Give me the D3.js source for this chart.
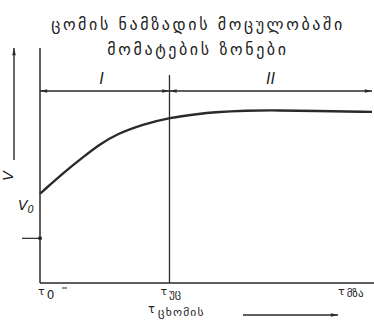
<!DOCTYPE html>
<html>
<head>
<meta charset="utf-8">
<script src="https://cdn.jsdelivr.net/npm/d3@7"></script>
<style>
  body { margin: 0; background: #fff; }
  text { font-family: "DejaVu Sans", sans-serif; fill: #222; }
</style>
</head>
<body>
<svg width="374" height="322"></svg>
<script>
// curve (time %, volume %)
var times = [0, 8, 13, 18, 23, 31, 39, 48, 52, 62, 72, 82, 100];
var volumes = [38, 48, 53.6, 59, 63.3, 67.5, 70.4, 72, 72.6, 73.4, 73.5, 73.2, 72.8];

var titleLines = ["ცომის ნამზადის მოცულობაში", "მომატების ზონები"];
var zoneBounds = [0, 39, 100];
var zoneNames = ["I", "II"];
var xTickValues = [0, 39, 100];
var xTickLabels = [["τ", "0"], ["τ", "უც"], ["τ", "მზა"]];
var v0Tick = 19;

var svg = d3.select("svg");

var x = d3.scaleLinear().domain([0, 100]).range([40, 372]);
var y = d3.scaleLinear().domain([0, 100]).range([283, 48]);

var ink = "#2a2a2a";

var defs = svg.append("defs");
defs.append("marker")
    .attr("id", "arr")
    .attr("viewBox", "0 -5 12 10")
    .attr("refX", 12)
    .attr("refY", 0)
    .attr("markerWidth", 12)
    .attr("markerHeight", 6)
    .attr("markerUnits", "userSpaceOnUse")
    .attr("orient", "auto-start-reverse")
  .append("path")
    .attr("d", "M0,-3 L12,0 L0,3 Z")
    .attr("fill", ink);

// title
svg.selectAll(".title")
    .data(titleLines)
    .enter()
    .append("text")
    .attr("class", "title")
    .attr("x", 198)
    .attr("y", function(d, i) { return 30 + i * 25; })
    .attr("text-anchor", "middle")
    .attr("font-size", 16)
    .attr("letter-spacing", 2.6)
    .text(function(d) { return d; });

// axes
svg.append("line")
    .attr("x1", x(0)).attr("x2", x(0))
    .attr("y1", y(0)).attr("y2", y(100))
    .attr("stroke", ink).attr("stroke-width", 1.5);
svg.append("line")
    .attr("x1", x(0)).attr("x2", 374)
    .attr("y1", y(0)).attr("y2", y(0))
    .attr("stroke", ink).attr("stroke-width", 1.5);

// zone boundary
svg.append("line")
    .attr("x1", x(zoneBounds[1])).attr("x2", x(zoneBounds[1]))
    .attr("y1", 75).attr("y2", y(0))
    .attr("stroke", ink).attr("stroke-width", 1.3);

// dimension arrows of zones
var dimY = 91;
d3.range(zoneNames.length).forEach(function(i) {
    svg.append("line")
        .attr("x1", x(zoneBounds[i])).attr("x2", x(zoneBounds[i + 1]))
        .attr("y1", dimY).attr("y2", dimY)
        .attr("stroke", ink).attr("stroke-width", 1.3)
        .attr("marker-start", "url(#arr)")
        .attr("marker-end", "url(#arr)");
    svg.append("text")
        .attr("x", x((zoneBounds[i] + zoneBounds[i + 1]) / 2) - (i == 0 ? 3 : 0))
        .attr("y", 84)
        .attr("text-anchor", "middle")
        .attr("font-size", 15)
        .attr("font-style", "italic")
        .attr("font-family", "Liberation Sans")
        .text(zoneNames[i]);
});

// curve
var line = d3.line()
    .x(function(d, i) { return x(times[i]); })
    .y(function(d) { return y(d); })
    .curve(d3.curveBasis);

svg.append("path")
    .datum(volumes)
    .attr("d", line)
    .attr("fill", "none")
    .attr("stroke", ink)
    .attr("stroke-width", 2.4);

// V axis arrow + label
svg.append("line")
    .attr("x1", 14).attr("x2", 14)
    .attr("y1", 160).attr("y2", 48)
    .attr("stroke", ink).attr("stroke-width", 1.4)
    .attr("marker-end", "url(#arr)");
svg.append("text")
    .attr("transform", "translate(13,176) rotate(-90)")
    .attr("text-anchor", "middle")
    .attr("font-size", 14)
    .attr("font-style", "italic")
    .attr("font-family", "Liberation Sans")
    .text("V");

var v0 = svg.append("text")
    .attr("x", 18).attr("y", 210)
    .attr("font-size", 14)
    .attr("font-style", "italic")
    .attr("font-family", "Liberation Sans");
v0.append("tspan").text("V");
v0.append("tspan").attr("font-size", 10).attr("dy", 3).text("0");

// small mark on the V axis
svg.append("line")
    .attr("x1", 22).attr("x2", x(0))
    .attr("y1", y(v0Tick)).attr("y2", y(v0Tick))
    .attr("stroke", ink).attr("stroke-width", 1.2);
svg.append("circle")
    .attr("cx", x(0)).attr("cy", y(v0Tick)).attr("r", 2)
    .attr("fill", ink);

// x tick labels
var tickShift = [2, 9, 34];
xTickValues.forEach(function(v, i) {
    var t = svg.append("text")
        .attr("x", x(v) - tickShift[i])
        .attr("y", 297)
        .attr("font-size", 12);
    t.append("tspan").attr("font-size", 11).attr("dy", -2).text(xTickLabels[i][0]);
    t.append("tspan").attr("font-size", i == 0 ? 12 : 11).attr("dy", i == 0 ? 4 : 2)
        .attr("dx", 2).text(xTickLabels[i][1]);
});
svg.append("line")
    .attr("x1", 62).attr("x2", 67)
    .attr("y1", 288).attr("y2", 288)
    .attr("stroke", ink).attr("stroke-width", 1);

// time label
var tl = svg.append("text")
    .attr("x", 148).attr("y", 316)
    .attr("font-size", 11.5);
tl.append("tspan").attr("dy", -3).text("τ");
tl.append("tspan").attr("dy", 3).attr("dx", 3).attr("letter-spacing", 1.2).text("ცხომის");
svg.append("line")
    .attr("x1", 243).attr("x2", 338)
    .attr("y1", 315).attr("y2", 315)
    .attr("stroke", ink).attr("stroke-width", 1.5)
    .attr("marker-end", "url(#arr)");
</script>
</body>
</html>
